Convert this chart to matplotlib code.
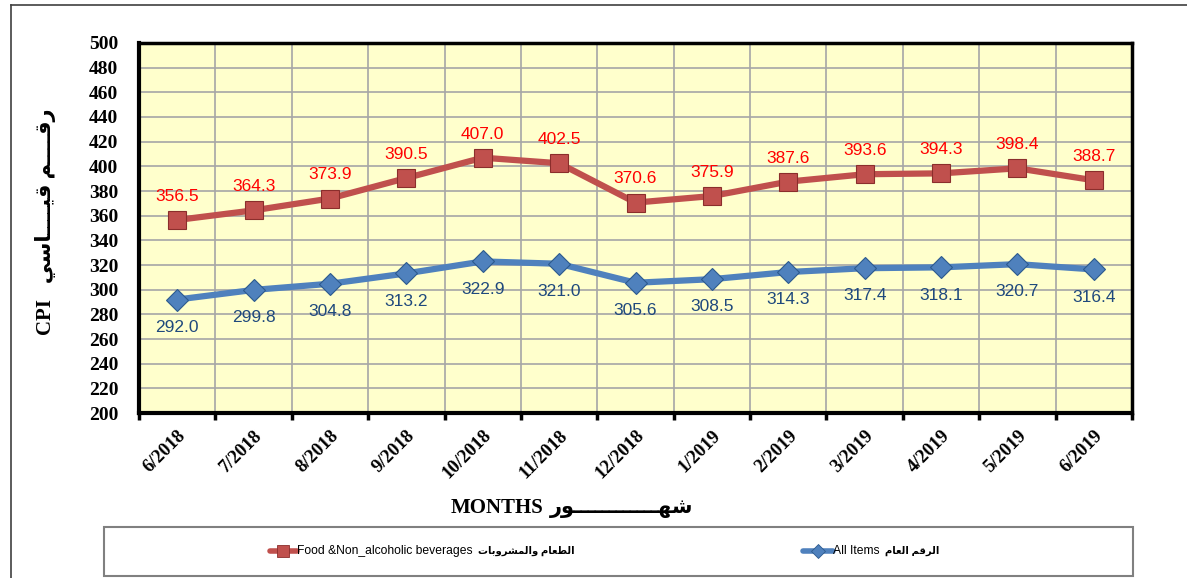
import matplotlib
matplotlib.use("Agg")
import matplotlib.pyplot as plt
from matplotlib.lines import Line2D
from matplotlib.patches import Rectangle

months = ["6/2018", "7/2018", "8/2018", "9/2018", "10/2018", "11/2018", "12/2018",
          "1/2019", "2/2019", "3/2019", "4/2019", "5/2019", "6/2019"]
food = [356.5, 364.3, 373.9, 390.5, 407.0, 402.5, 370.6, 375.9, 387.6, 393.6, 394.3, 398.4, 388.7]
all_items = [292.0, 299.8, 304.8, 313.2, 322.9, 321.0, 305.6, 308.5, 314.3, 317.4, 318.1, 320.7, 316.4]
yticks = list(range(200, 501, 20))

# Arabic strings in pre-shaped presentation forms, visual (left-to-right) order
TAT = "\u0640"
ar_months = "\uFEAD\uFEEE" + TAT * 12 + "\uFEEC\uFEB7"          # شهـــور
ar_index = "\uFEF2\uFEB3\uFE8E" + TAT * 4 + "\uFEF4\uFED7" + " " + "\uFEE2" + TAT * 4 + "\uFED7\uFEAD"  # رقـم قيـاسي
ar_food = "\uFE95\uFE8E\uFE91\uFEED\uFEAE\uFEB8\uFEE4\uFEDF\uFE8D\uFEED" + " " + "\uFEE1\uFE8E\uFECC\uFEC4\uFEDF\uFE8D"  # الطعام والمشروبات
ar_all = "\uFEE1\uFE8E\uFECC\uFEDF\uFE8D" + " " + "\uFEE2\uFED7\uFEAE\uFEDF\uFE8D"  # الرقم العام

W, H = 1187, 578
fig = plt.figure(figsize=(W / 100, H / 100), dpi=100)
fig.patch.set_facecolor("white")

# background pixel-space axes for frame & legend
bg = fig.add_axes([0, 0, 1, 1], zorder=0)
bg.set_xlim(0, W)
bg.set_ylim(H, 0)
bg.axis("off")
bg.plot([11, 11], [5, H], color="#404040", lw=1.2)
bg.plot([11, W], [5, 5], color="#404040", lw=1.2)
bg.add_patch(Rectangle((104, 527), 1029, 49, fill=False, edgecolor="#808080", lw=1.5))

serif = ["Liberation Serif", "DejaVu Sans"]
sans = ["Liberation Sans", "DejaVu Sans"]

# legend entries
bg.add_line(Line2D([270, 297], [551, 551], color="#C0504D", lw=4, solid_capstyle="round"))
bg.plot([283], [551], marker="s", ms=8, color="#C0504D", mec="#8B2E2C", mew=0.6)
bg.text(297, 551, "Food &Non_alcoholic beverages", family=sans,
        fontsize=8.7, va="center", ha="left")
bg.text(478, 551, ar_food, family=sans, fontsize=7.2, fontweight="bold", va="center", ha="left")
bg.add_line(Line2D([803, 833], [551, 551], color="#4F81BD", lw=4, solid_capstyle="round"))
bg.plot([818], [551], marker="D", ms=7, color="#4F81BD", mec="#2C5A8E", mew=0.6)
bg.text(833, 551, "All Items", family=sans, fontsize=8.7, va="center", ha="left")
bg.text(885, 551, ar_all, family=sans, fontsize=7.2, fontweight="bold", va="center", ha="left")

# axis labels in figure space
bg.text(497, 508, "MONTHS", family=serif, fontweight="bold", fontsize=15, ha="center", va="center")
bg.text(622, 508, ar_months, family=serif, fontweight="bold", fontsize=15, ha="center", va="center")
bg.text(46, 222, "CPI   " + ar_index, family=serif, fontweight="bold", fontsize=15,
        ha="center", va="center", rotation=90)

ax = fig.add_axes([139 / W, 1 - 413 / H, (1132 - 139) / W, (413 - 43) / H], zorder=2)
ax.set_facecolor("#FFFFCC")
x = list(range(len(months)))

ax.plot(x, food, color="#C0504D", lw=4.5, marker="s", ms=13, mfc="#C0504D",
        mec="#8B2E2C", mew=0.8, zorder=4)
ax.plot(x, all_items, color="#4F81BD", lw=4.5, marker="D", ms=11, mfc="#4F81BD",
        mec="#2C5A8E", mew=0.8, zorder=4)

for xi, v in zip(x, food):
    ax.annotate(f"{v:.1f}", (xi, v), xytext=(0, 17), textcoords="offset points",
                ha="center", va="center", color="#FF0000", fontsize=12.5, family=sans)
for xi, v in zip(x, all_items):
    ax.annotate(f"{v:.1f}", (xi, v), xytext=(0, -20), textcoords="offset points",
                ha="center", va="center", color="#1F497D", fontsize=12.5, family=sans)

ax.set_xlim(-0.5, len(months) - 0.5)
ax.set_ylim(200, 500)
ax.set_yticks(yticks)
ax.set_yticklabels([str(t) for t in yticks], family=serif, fontweight="bold", fontsize=14)
ax.tick_params(axis="y", length=0, pad=15)

ax.set_xticks([i - 0.5 for i in range(len(months) + 1)])
ax.set_xticklabels([])
ax.tick_params(axis="x", which="major", length=5, width=2.5, direction="out")
ax.set_xticks(x, minor=True)
ax.set_xticklabels(months, minor=True, rotation=45, ha="right", va="top",
                   rotation_mode="anchor", family=serif, fontweight="bold", fontsize=13.5)
ax.tick_params(axis="x", which="minor", length=0, pad=10)

ax.grid(True, which="major", color="#A6A6A6", lw=1.2, zorder=1)
ax.set_axisbelow(True)
for side in ["left", "bottom", "top", "right"]:
    ax.spines[side].set_color("black")
    ax.spines[side].set_linewidth(3 if side in ("left", "bottom") else 2.5)

fig.savefig("out.png", dpi=100)
